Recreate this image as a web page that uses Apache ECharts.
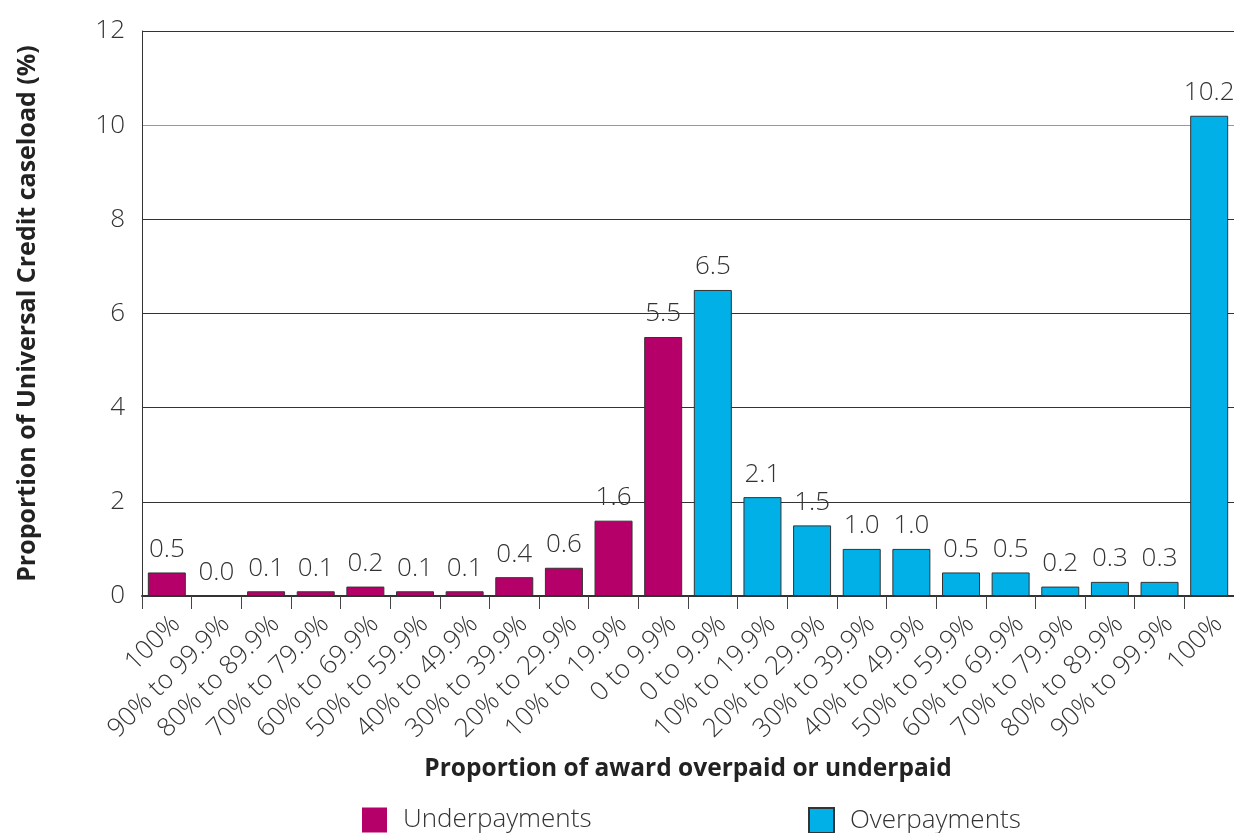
<!DOCTYPE html>
<html><head><meta charset="utf-8">
<script src="https://cdn.jsdelivr.net/npm/echarts@6/dist/echarts.min.js"></script>
<style>html,body{margin:0;padding:0;background:#fff}#c{width:1234px;height:833px}</style>
</head><body><div id="c"></div>
<script>
const categories = ['100%','90% to 99.9%','80% to 89.9%','70% to 79.9%','60% to 69.9%','50% to 59.9%','40% to 49.9%','30% to 39.9%','20% to 29.9%','10% to 19.9%','0 to 9.9%','0 to 9.9%','10% to 19.9%','20% to 29.9%','30% to 39.9%','40% to 49.9%','50% to 59.9%','60% to 69.9%','70% to 79.9%','80% to 89.9%','90% to 99.9%','100%'];
const underpayments = [0.5,0.0,0.1,0.1,0.2,0.1,0.1,0.4,0.6,1.6,5.5,'-','-','-','-','-','-','-','-','-','-','-'];
const overpayments = ['-','-','-','-','-','-','-','-','-','-','-',6.5,2.1,1.5,1.0,1.0,0.5,0.5,0.2,0.3,0.3,10.2];
const yTicks = [0,2,4,6,8,10,12];

const FONT = '"Open Sans", sans-serif';
const chart = echarts.init(document.getElementById('c'), null, {renderer:'canvas'});
const labelStyle = {show:true, position:'top', distance:10, fontFamily:FONT, fontWeight:300, fontSize:26, color:'#333', formatter: p => Number(p.value).toFixed(1)};
chart.setOption({
  animation:false,
  grid:{left:142, right:-4, top:31, bottom:237, containLabel:false},
  legend:[
    {data:['Underpayments'], left:362, top:807, padding:0, itemWidth:25, itemHeight:25, itemGap:0, icon:'rect',
     itemStyle:{borderWidth:0},
     textStyle:{fontFamily:FONT, fontWeight:300, fontSize:26, color:'#333', padding:[0,0,0,11]}},
    {data:['Overpayments'], left:808, top:807, padding:0, itemWidth:25, itemHeight:25, itemGap:0, icon:'rect',
     textStyle:{fontFamily:FONT, fontWeight:300, fontSize:26, color:'#333', padding:[0,0,0,11]}}
  ],
  xAxis:{
    type:'category', data:categories,
    name:'Proportion of award overpaid or underpaid', nameLocation:'middle', nameGap:161,
    nameTextStyle:{fontFamily:FONT, fontWeight:'bold', fontSize:24.5, color:'#222'},
    axisLine:{show:true, lineStyle:{color:'#333', width:2}},
    axisTick:{show:true, length:13, lineStyle:{color:'#444', width:1}},
    axisLabel:{interval:0, rotate:45, margin:15, verticalAlign:'top', fontFamily:FONT, fontWeight:300, fontSize:26, color:'#333'}
  },
  yAxis:{
    type:'value', min:0, max:12, interval:2,
    name:'Proportion of Universal Credit caseload (%)', nameLocation:'middle', nameGap:102,
    nameTextStyle:{fontFamily:FONT, fontWeight:'bold', fontSize:25, color:'#222'},
    axisLine:{show:true, lineStyle:{color:'#333', width:1}},
    axisTick:{show:false},
    axisLabel:{margin:17, fontFamily:FONT, fontWeight:300, fontSize:26, color:'#333',
      formatter: v => yTicks.includes(v) ? String(v) : ''},
    splitLine:{show:true, lineStyle:{color:['#333','#333','#333','#333','#333','#999','#333'], width:1}}
  },
  series:[
    {name:'Underpayments', type:'bar', stack:'s', barWidth:38, data:underpayments,
     itemStyle:{color:'#B5006A', borderColor:'#333', borderWidth:1}, label:labelStyle},
    {name:'Overpayments', type:'bar', stack:'s', barWidth:38, data:overpayments,
     itemStyle:{color:'#00B0E6', borderColor:'#333', borderWidth:1}, label:labelStyle}
  ]
});
</script></body></html>
